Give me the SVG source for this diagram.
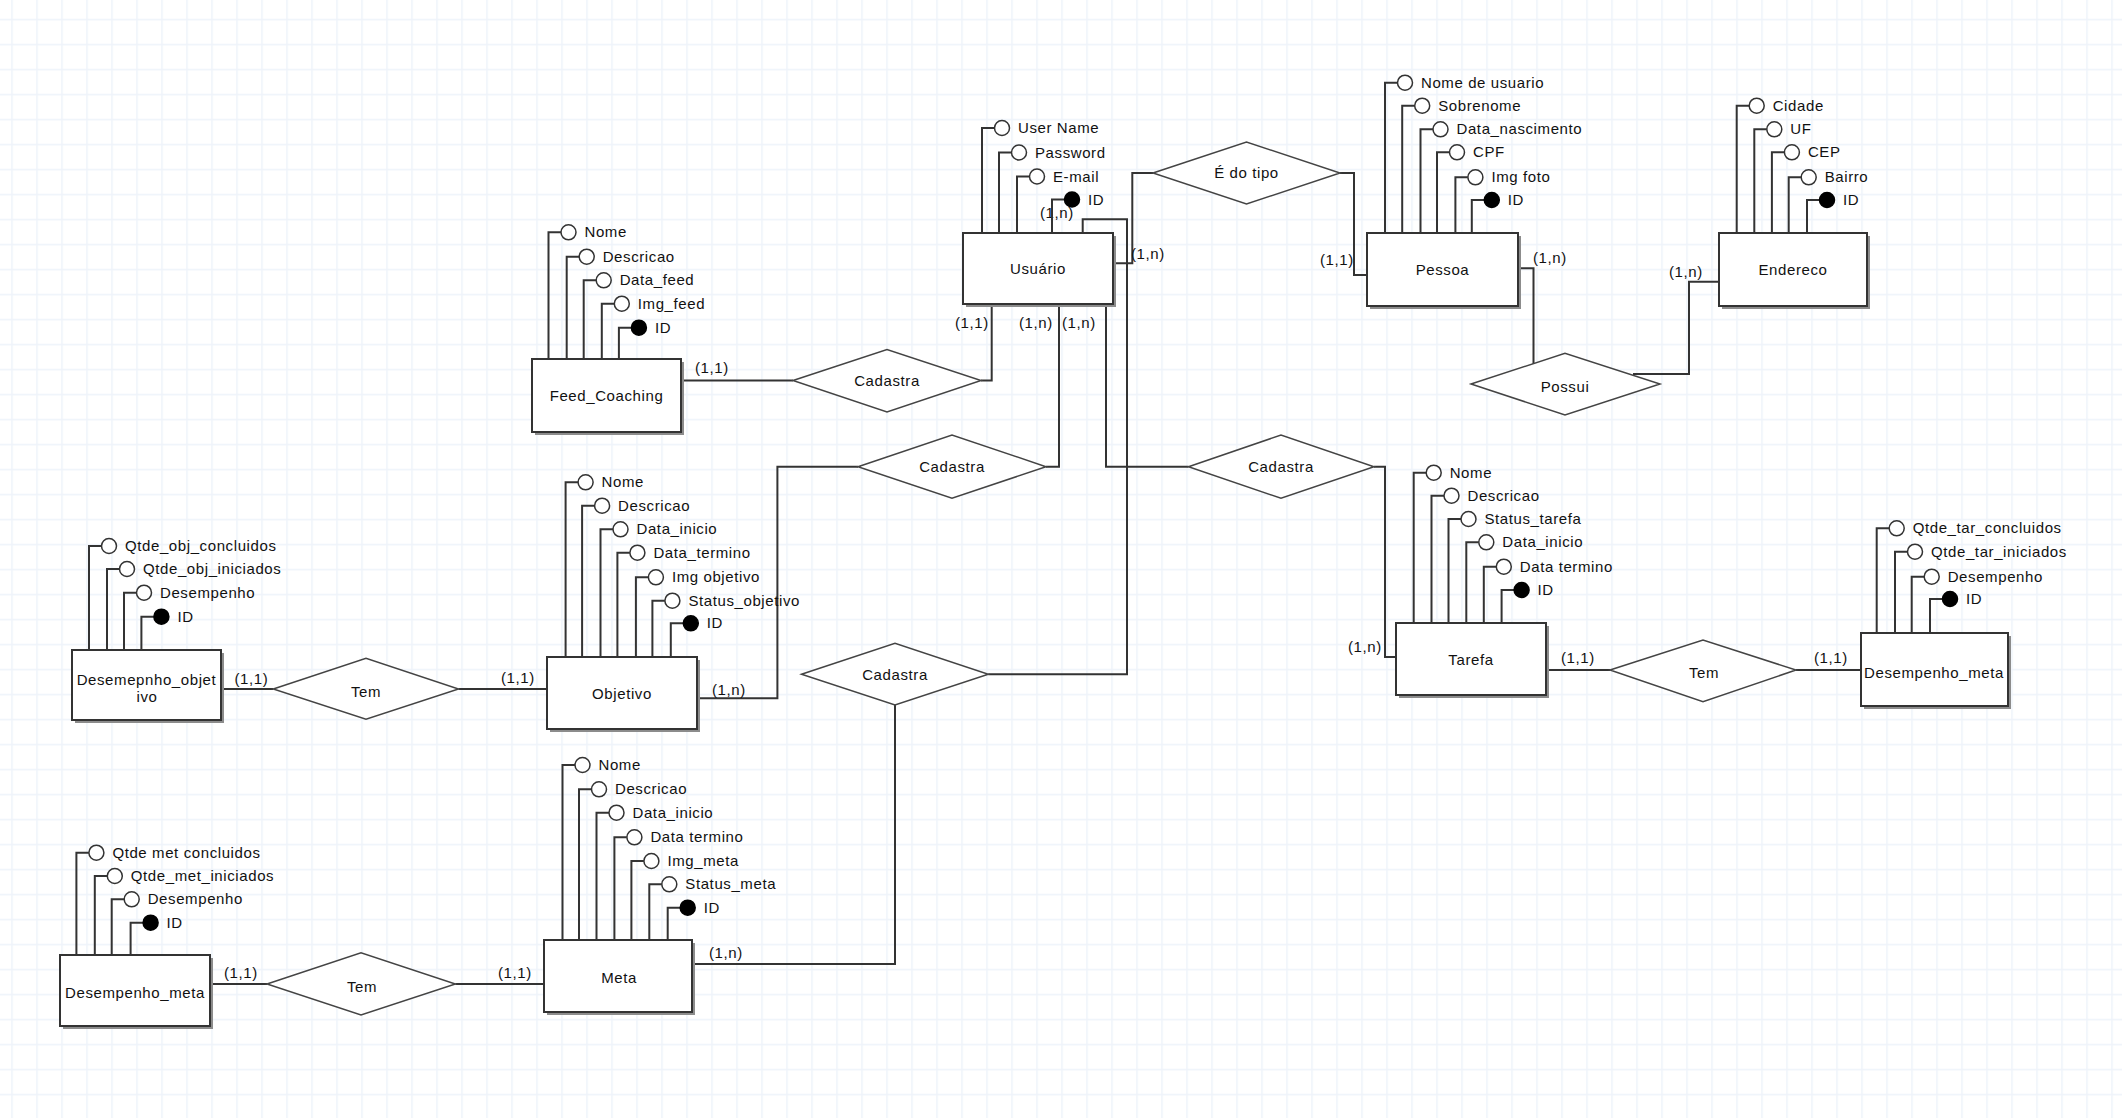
<svg xmlns="http://www.w3.org/2000/svg" width="2122" height="1118" viewBox="0 0 2122 1118">
<style>
text{font-family:"Liberation Sans",Arial,sans-serif;font-size:15px;letter-spacing:0.6px;fill:#111}
.lbl{text-anchor:middle}
.box{fill:#fff;stroke:#333;stroke-width:2}
.shadow{fill:#8c8c8c}
.rel polygon{fill:#fff;stroke:#444;stroke-width:1.5}
.attr path{fill:none;stroke:#333;stroke-width:2}
.attr circle{fill:#fff;stroke:#333;stroke-width:1.5}
.attr circle.key{fill:#000;stroke:#000}
.conn path{fill:none;stroke:#333;stroke-width:2}
</style>
<defs>
<pattern id="grid" x="11.25" y="18.75" width="25" height="25" patternUnits="userSpaceOnUse">
<path d="M0 0.75H25M0.75 0V25" fill="none" stroke="#eef3fa" stroke-width="1.5"/>
</pattern>
</defs>
<rect width="2122" height="1118" fill="#fff"/>
<rect width="2122" height="1118" fill="url(#grid)"/>

<g id="connectors" class="conn">
<path d="M681 380.5H793"/><text x="695" y="373">(1,1)</text>
<path d="M981 380.5H991.7V304"/><text x="955" y="328">(1,1)</text>
<path d="M697 698.3H777.4V466.7H858"/><text x="712" y="695">(1,n)</text>
<path d="M1046 466.7H1059V304"/><text x="1019" y="328">(1,n)</text>
<path d="M1106 304V466.7H1188.5"/><text x="1062" y="328">(1,n)</text>
<path d="M1374 466.7H1385V657H1396"/><text x="1348" y="652">(1,n)</text>
<path d="M1082.7 233V219.3H1127V674.3H988.3"/><text x="1040" y="218">(1,n)</text>
<path d="M895 705V964H692"/><text x="709" y="958">(1,n)</text>
<path d="M1113 263.3H1132.3V173H1153"/><text x="1131" y="259">(1,n)</text>
<path d="M1340 173H1354V275H1367"/><text x="1320" y="265">(1,1)</text>
<path d="M1518 268.3H1533.5V364"/><text x="1533" y="263">(1,n)</text>
<path d="M1633 374H1689V281.7H1719"/><text x="1669" y="277">(1,n)</text>
<path d="M221 689H273.3"/><text x="234.5" y="684">(1,1)</text>
<path d="M458.5 689H547"/><text x="501" y="683">(1,1)</text>
<path d="M209.7 984H267"/><text x="224" y="978">(1,1)</text>
<path d="M455.4 984H544"/><text x="498" y="978">(1,1)</text>
<path d="M1546 670H1610"/><text x="1561" y="663">(1,1)</text>
<path d="M1796 670H1861"/><text x="1814" y="663">(1,1)</text>
</g>

<g id="rel-edotipo" class="rel"><polygon points="1153,173 1246.5,142 1340,173 1246.5,204"/><text class="lbl" x="1246.5" y="178">É do tipo</text></g>
<g id="rel-cadastra-feed" class="rel"><polygon points="793,380.5 887,349.5 981,380.5 887,412"/><text class="lbl" x="887" y="386">Cadastra</text></g>
<g id="rel-cadastra-objetivo" class="rel"><polygon points="858,466.7 952,435 1046,466.7 952,498.3"/><text class="lbl" x="952" y="472">Cadastra</text></g>
<g id="rel-cadastra-tarefa" class="rel"><polygon points="1188.5,466.7 1281,435 1374,466.7 1281,498.3"/><text class="lbl" x="1281" y="472">Cadastra</text></g>
<g id="rel-cadastra-meta" class="rel"><polygon points="801.5,674.3 895,643.3 988.3,674.3 895,705"/><text class="lbl" x="895" y="680">Cadastra</text></g>
<g id="rel-possui" class="rel"><polygon points="1471,384 1565,353.3 1660,384 1565,415"/><text class="lbl" x="1565" y="392">Possui</text></g>
<g id="rel-tem-objetivo" class="rel"><polygon points="273.3,689 366,658.3 458.5,689 366,719.3"/><text class="lbl" x="366" y="697">Tem</text></g>
<g id="rel-tem-meta" class="rel"><polygon points="267,984 361,952.7 455.4,984 361,1015"/><text class="lbl" x="362" y="992">Tem</text></g>
<g id="rel-tem-tarefa" class="rel"><polygon points="1610,670 1703,640 1796,670 1703,701.7"/><text class="lbl" x="1704" y="678">Tem</text></g>

<g id="ent-feed">
<rect class="shadow" x="535" y="362" width="149" height="73"/><rect class="box" x="532" y="359" width="149" height="73"/>
<text class="lbl" x="606.5" y="401">Feed_Coaching</text>
<g class="attr">
<path d="M548.5 359V232.3H561"/><circle cx="568.5" cy="232.3" r="7.5"/><text x="584.5" y="237.3">Nome</text>
<path d="M566.7 359V256.7H579.2"/><circle cx="586.7" cy="256.7" r="7.5"/><text x="602.7" y="261.7">Descricao</text>
<path d="M583.7 359V280.3H596.2"/><circle cx="603.7" cy="280.3" r="7.5"/><text x="619.7" y="285.3">Data_feed</text>
<path d="M601.8 359V303.7H614.3"/><circle cx="621.8" cy="303.7" r="7.5"/><text x="637.8" y="308.7">Img_feed</text>
<path d="M618.9 359V327.7H631.4"/><circle class="key" cx="638.9" cy="327.7" r="7.5"/><text x="654.9" y="332.7">ID</text>
</g>
</g>

<g id="ent-usuario">
<rect class="shadow" x="966" y="236" width="150" height="71"/><rect class="box" x="963" y="233" width="150" height="71"/>
<text class="lbl" x="1038" y="274">Usuário</text>
<g class="attr">
<path d="M982 233V128H994.5"/><circle cx="1002" cy="128" r="7.5"/><text x="1018" y="133">User Name</text>
<path d="M999 233V152.5H1011.5"/><circle cx="1019" cy="152.5" r="7.5"/><text x="1035" y="157.5">Password</text>
<path d="M1017 233V176.5H1029.5"/><circle cx="1037" cy="176.5" r="7.5"/><text x="1053" y="181.5">E-mail</text>
<path d="M1052 233V199.5H1064.5"/><circle class="key" cx="1072" cy="199.5" r="7.5"/><text x="1088" y="204.5">ID</text>
</g>
</g>

<g id="ent-pessoa">
<rect class="shadow" x="1370" y="236" width="151" height="73"/><rect class="box" x="1367" y="233" width="151" height="73"/>
<text class="lbl" x="1442.5" y="275">Pessoa</text>
<g class="attr">
<path d="M1385 233V82.7H1397.5"/><circle cx="1405" cy="82.7" r="7.5"/><text x="1421" y="87.7">Nome de usuario</text>
<path d="M1402.2 233V105.7H1414.7"/><circle cx="1422.2" cy="105.7" r="7.5"/><text x="1438.2" y="110.7">Sobrenome</text>
<path d="M1420.5 233V129.3H1433"/><circle cx="1440.5" cy="129.3" r="7.5"/><text x="1456.5" y="134.3">Data_nascimento</text>
<path d="M1437 233V152.3H1449.5"/><circle cx="1457" cy="152.3" r="7.5"/><text x="1473" y="157.3">CPF</text>
<path d="M1455.4 233V177.3H1467.9"/><circle cx="1475.4" cy="177.3" r="7.5"/><text x="1491.4" y="182.3">Img foto</text>
<path d="M1471.8 233V200H1484.3"/><circle class="key" cx="1491.8" cy="200" r="7.5"/><text x="1507.8" y="205">ID</text>
</g>
</g>

<g id="ent-endereco">
<rect class="shadow" x="1722" y="236" width="148" height="73"/><rect class="box" x="1719" y="233" width="148" height="73"/>
<text class="lbl" x="1793" y="275">Endereco</text>
<g class="attr">
<path d="M1736.7 233V105.7H1749.2"/><circle cx="1756.7" cy="105.7" r="7.5"/><text x="1772.7" y="110.7">Cidade</text>
<path d="M1754.3 233V129.3H1766.8"/><circle cx="1774.3" cy="129.3" r="7.5"/><text x="1790.3" y="134.3">UF</text>
<path d="M1771.9 233V152.3H1784.4"/><circle cx="1791.9" cy="152.3" r="7.5"/><text x="1807.9" y="157.3">CEP</text>
<path d="M1788.7 233V177.3H1801.2"/><circle cx="1808.7" cy="177.3" r="7.5"/><text x="1824.7" y="182.3">Bairro</text>
<path d="M1807 233V200H1819.5"/><circle class="key" cx="1827" cy="200" r="7.5"/><text x="1843" y="205">ID</text>
</g>
</g>

<g id="ent-objetivo">
<rect class="shadow" x="550" y="660" width="150" height="72"/><rect class="box" x="547" y="657" width="150" height="72"/>
<text class="lbl" x="622" y="699">Objetivo</text>
<g class="attr">
<path d="M565.6 657V482.3H578.1"/><circle cx="585.6" cy="482.3" r="7.5"/><text x="601.6" y="487.3">Nome</text>
<path d="M582.1 657V505.7H594.6"/><circle cx="602.1" cy="505.7" r="7.5"/><text x="618.1" y="510.7">Descricao</text>
<path d="M600.5 657V529.3H613"/><circle cx="620.5" cy="529.3" r="7.5"/><text x="636.5" y="534.3">Data_inicio</text>
<path d="M617.4 657V552.7H629.9"/><circle cx="637.4" cy="552.7" r="7.5"/><text x="653.4" y="557.7">Data_termino</text>
<path d="M635.9 657V577.3H648.4"/><circle cx="655.9" cy="577.3" r="7.5"/><text x="671.9" y="582.3">Img objetivo</text>
<path d="M652.4 657V600.7H664.9"/><circle cx="672.4" cy="600.7" r="7.5"/><text x="688.4" y="605.7">Status_objetivo</text>
<path d="M670.8 657V623.3H683.3"/><circle class="key" cx="690.8" cy="623.3" r="7.5"/><text x="706.8" y="628.3">ID</text>
</g>
</g>

<g id="ent-desempenho-objetivo">
<rect class="shadow" x="75" y="653" width="149" height="70"/><rect class="box" x="72" y="650" width="149" height="70"/>
<text class="lbl" x="146.5" y="685">Desemepnho_objet</text>
<text class="lbl" x="147" y="702">ivo</text>
<g class="attr">
<path d="M89 650V546H101.5"/><circle cx="109" cy="546" r="7.5"/><text x="125" y="551">Qtde_obj_concluidos</text>
<path d="M107 650V569H119.5"/><circle cx="127" cy="569" r="7.5"/><text x="143" y="574">Qtde_obj_iniciados</text>
<path d="M124 650V592.7H136.5"/><circle cx="144" cy="592.7" r="7.5"/><text x="160" y="597.7">Desempenho</text>
<path d="M141.4 650V616.7H153.9"/><circle class="key" cx="161.4" cy="616.7" r="7.5"/><text x="177.4" y="621.7">ID</text>
</g>
</g>

<g id="ent-meta">
<rect class="shadow" x="547" y="943" width="148" height="72"/><rect class="box" x="544" y="940" width="148" height="72"/>
<text class="lbl" x="619" y="983">Meta</text>
<g class="attr">
<path d="M562.5 940V765H575"/><circle cx="582.5" cy="765" r="7.5"/><text x="598.5" y="770">Nome</text>
<path d="M579 940V789.3H591.5"/><circle cx="599" cy="789.3" r="7.5"/><text x="615" y="794.3">Descricao</text>
<path d="M596.5 940V812.7H609"/><circle cx="616.5" cy="812.7" r="7.5"/><text x="632.5" y="817.7">Data_inicio</text>
<path d="M614.4 940V837.3H626.9"/><circle cx="634.4" cy="837.3" r="7.5"/><text x="650.4" y="842.3">Data termino</text>
<path d="M631.4 940V861H643.9"/><circle cx="651.4" cy="861" r="7.5"/><text x="667.4" y="866">Img_meta</text>
<path d="M649.3 940V884.3H661.8"/><circle cx="669.3" cy="884.3" r="7.5"/><text x="685.3" y="889.3">Status_meta</text>
<path d="M667.7 940V907.7H680.2"/><circle class="key" cx="687.7" cy="907.7" r="7.5"/><text x="703.7" y="912.7">ID</text>
</g>
</g>

<g id="ent-desempenho-meta-left">
<rect class="shadow" x="63" y="958" width="150" height="71"/><rect class="box" x="60" y="955" width="150" height="71"/>
<text class="lbl" x="135" y="998">Desempenho_meta</text>
<g class="attr">
<path d="M76.4 955V852.7H88.9"/><circle cx="96.4" cy="852.7" r="7.5"/><text x="112.4" y="857.7">Qtde met concluidos</text>
<path d="M94.8 955V876H107.3"/><circle cx="114.8" cy="876" r="7.5"/><text x="130.8" y="881">Qtde_met_iniciados</text>
<path d="M111.7 955V899.3H124.2"/><circle cx="131.7" cy="899.3" r="7.5"/><text x="147.7" y="904.3">Desempenho</text>
<path d="M130.6 955V922.7H143.1"/><circle class="key" cx="150.6" cy="922.7" r="7.5"/><text x="166.6" y="927.7">ID</text>
</g>
</g>

<g id="ent-tarefa">
<rect class="shadow" x="1399" y="626" width="150" height="72"/><rect class="box" x="1396" y="623" width="150" height="72"/>
<text class="lbl" x="1471" y="665">Tarefa</text>
<g class="attr">
<path d="M1413.7 623V472.7H1426.2"/><circle cx="1433.7" cy="472.7" r="7.5"/><text x="1449.7" y="477.7">Nome</text>
<path d="M1431.5 623V495.7H1444"/><circle cx="1451.5" cy="495.7" r="7.5"/><text x="1467.5" y="500.7">Descricao</text>
<path d="M1448.5 623V519H1461"/><circle cx="1468.5" cy="519" r="7.5"/><text x="1484.5" y="524">Status_tarefa</text>
<path d="M1466.3 623V542.3H1478.8"/><circle cx="1486.3" cy="542.3" r="7.5"/><text x="1502.3" y="547.3">Data_inicio</text>
<path d="M1483.8 623V566.7H1496.3"/><circle cx="1503.8" cy="566.7" r="7.5"/><text x="1519.8" y="571.7">Data termino</text>
<path d="M1501.6 623V590H1514.1"/><circle class="key" cx="1521.6" cy="590" r="7.5"/><text x="1537.6" y="595">ID</text>
</g>
</g>

<g id="ent-desempenho-meta-right">
<rect class="shadow" x="1864" y="636" width="147" height="73"/><rect class="box" x="1861" y="633" width="147" height="73"/>
<text class="lbl" x="1934" y="678">Desempenho_meta</text>
<g class="attr">
<path d="M1876.7 633V528.3H1889.2"/><circle cx="1896.7" cy="528.3" r="7.5"/><text x="1912.7" y="533.3">Qtde_tar_concluidos</text>
<path d="M1895 633V551.7H1907.5"/><circle cx="1915" cy="551.7" r="7.5"/><text x="1931" y="556.7">Qtde_tar_iniciados</text>
<path d="M1911.7 633V576.7H1924.2"/><circle cx="1931.7" cy="576.7" r="7.5"/><text x="1947.7" y="581.7">Desempenho</text>
<path d="M1930 633V599H1942.5"/><circle class="key" cx="1950" cy="599" r="7.5"/><text x="1966" y="604">ID</text>
</g>
</g>
</svg>
